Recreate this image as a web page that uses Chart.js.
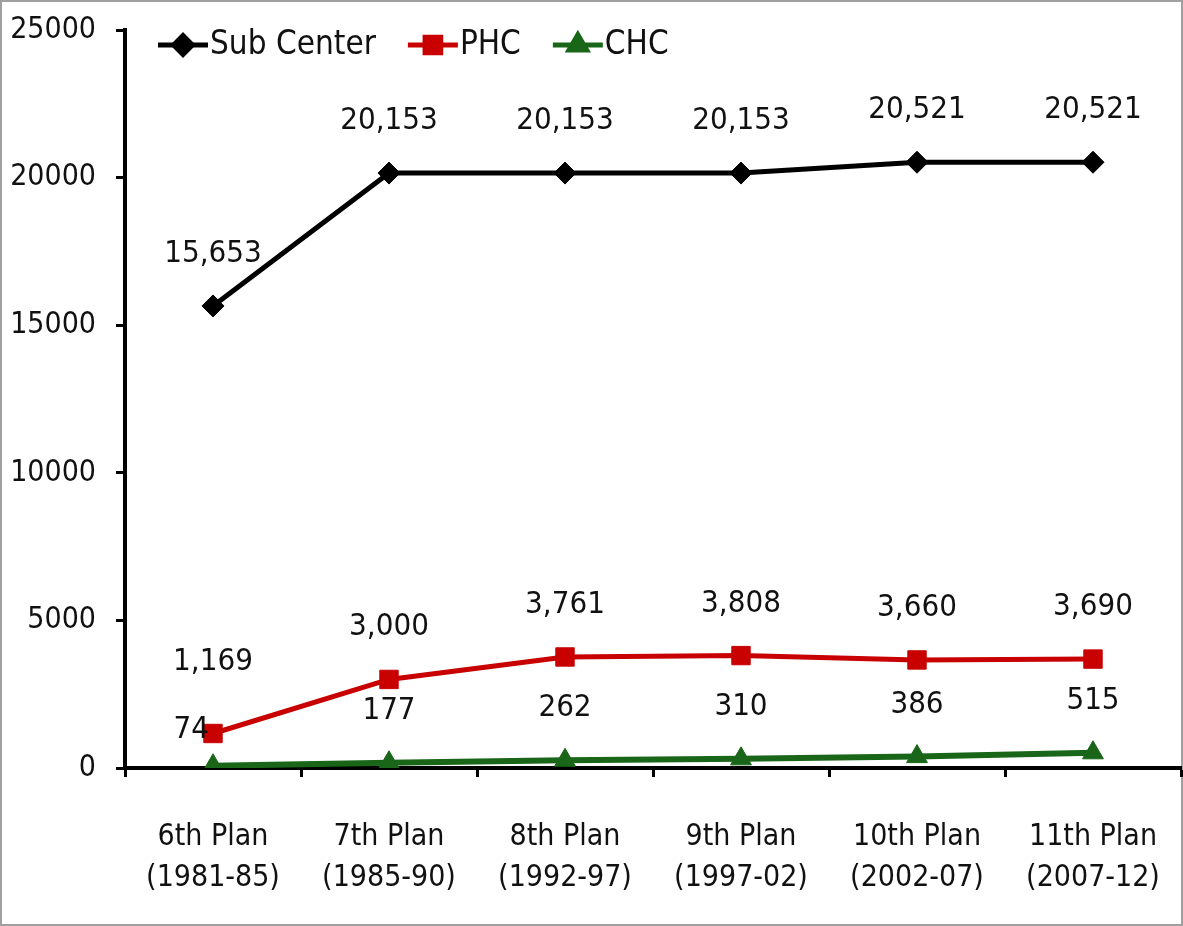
<!DOCTYPE html>
<html lang="en">
<head>
    <meta charset="UTF-8">
    <title>Sub Center / PHC / CHC by Plan</title>
    <script src="https://cdn.jsdelivr.net/npm/chart.js"></script>
    <style>
        body { margin: 0; background: #fff; }
    </style>
</head>
<body>
    <canvas id="planChart" width="1183" height="926"></canvas>
    <script>
        // data
        var planLabels = [
            ['6th Plan', '(1981-85)'],
            ['7th Plan', '(1985-90)'],
            ['8th Plan', '(1992-97)'],
            ['9th Plan', '(1997-02)'],
            ['10th Plan', '(2002-07)'],
            ['11th Plan', '(2007-12)']
        ];
        var subCenter = [15653, 20153, 20153, 20153, 20521, 20521];
        var phc = [1169, 3000, 3761, 3808, 3660, 3690];
        var chc = [74, 177, 262, 310, 386, 515];
        var yTicks = [0, 5000, 10000, 15000, 20000, 25000];

        var FONT = '"DejaVu Sans Condensed", "DejaVu Sans", sans-serif';
        var TEXT = '#111111';

        // white page + thin grey frame
        var frame = {
            id: 'frame',
            beforeDraw: function(chart) {
                var c = chart.ctx;
                c.save();
                c.fillStyle = '#fff';
                c.fillRect(0, 0, chart.width, chart.height);
                c.strokeStyle = '#a0a0a0';
                c.lineWidth = 2;
                c.strokeRect(1, 1, chart.width - 2, chart.height - 2);
                c.restore();
            }
        };

        // value labels above the points
        var valueLabels = {
            id: 'valueLabels',
            afterDatasetsDraw: function(chart) {
                var c = chart.ctx;
                c.save();
                c.font = '31px ' + FONT;
                c.fillStyle = TEXT;
                c.textBaseline = 'middle';
                chart.data.datasets.forEach(function(ds, i) {
                    var meta = chart.getDatasetMeta(i);
                    meta.data.forEach(function(pt, j) {
                        var txt = ds.data[j].toLocaleString('en-US');
                        var x = pt.x, y = pt.y - 52;
                        c.textAlign = 'center';
                        // first points crowd each other, shift them like the original
                        if (i === 1 && j === 0) { y = pt.y - 72; }
                        if (i === 2 && j === 0) { c.textAlign = 'right'; x = pt.x - 4; y = pt.y - 36; }
                        c.fillText(txt, x, y);
                    });
                });
                c.restore();
            }
        };

        // legend drawn inside the plot, top left
        var insideLegend = {
            id: 'insideLegend',
            afterDraw: function(chart) {
                var c = chart.ctx;
                var x = 158, y = 45;
                c.save();
                c.font = '33px ' + FONT;
                c.textBaseline = 'middle';
                c.textAlign = 'left';
                chart.data.datasets.forEach(function(ds) {
                    c.strokeStyle = ds.borderColor;
                    c.lineWidth = 5;
                    c.beginPath();
                    c.moveTo(x, y);
                    c.lineTo(x + 50, y);
                    c.stroke();
                    Chart.helpers.drawPoint(c, {
                        pointStyle: ds.pointStyle,
                        radius: ds.pointRadius * 0.85,
                        borderWidth: 1
                    }, x + 25, y);
                    c.fillStyle = ds.borderColor;
                    c.fill();
                    c.fillStyle = TEXT;
                    c.fillText(ds.label, x + 52, y);
                    x += 52 + c.measureText(ds.label).width + 32;
                });
                c.restore();
            }
        };

        var ctx = document.getElementById('planChart').getContext('2d');
        var chart = new Chart(ctx, {
            type: 'line',
            data: {
                labels: planLabels,
                datasets: [{
                    label: 'Sub Center',
                    data: subCenter,
                    borderColor: '#000000',
                    backgroundColor: '#000000',
                    borderWidth: 5,
                    pointStyle: 'rectRot',
                    pointRadius: 11,
                    pointBorderWidth: 1
                }, {
                    label: 'PHC',
                    data: phc,
                    borderColor: '#c80000',
                    backgroundColor: '#c80000',
                    borderWidth: 5,
                    pointStyle: 'rect',
                    pointRadius: 13,
                    pointBorderWidth: 1
                }, {
                    label: 'CHC',
                    data: chc,
                    borderColor: '#196619',
                    backgroundColor: '#196619',
                    borderWidth: 6,
                    pointStyle: 'triangle',
                    pointRadius: 12,
                    pointBorderWidth: 1
                }]
            },
            options: {
                responsive: false,
                animation: false,
                layout: { autoPadding: false, padding: { top: 30, right: 2, left: 0, bottom: 0 } },
                plugins: {
                    legend: { display: false },
                    tooltip: { enabled: false }
                },
                scales: {
                    x: {
                        offset: true,
                        grid: {
                            offset: true,
                            drawOnChartArea: false,
                            drawTicks: true,
                            tickLength: 9,
                            tickWidth: 3,
                            tickColor: '#000'
                        },
                        border: { display: true, color: '#000', width: 4 },
                        ticks: {
                            color: TEXT,
                            font: { family: FONT, size: 30, lineHeight: 1.35 },
                            padding: 40,
                            maxRotation: 0
                        },
                        afterFit: function(scale) {
                            scale.height = 926 - 768;
                            scale.paddingLeft = 0;
                            scale.paddingRight = 0;
                        }
                    },
                    y: {
                        min: 0,
                        max: 25000,
                        afterBuildTicks: function(scale) {
                            scale.ticks = yTicks.map(function(v) { return { value: v }; });
                        },
                        grid: {
                            drawOnChartArea: false,
                            drawTicks: true,
                            tickLength: 9,
                            tickWidth: 3,
                            tickColor: '#000'
                        },
                        border: { display: true, color: '#000', width: 4 },
                        ticks: {
                            color: TEXT,
                            font: { family: FONT, size: 30 },
                            padding: 20,
                            callback: function(v) { return String(v); }
                        },
                        afterFit: function(scale) {
                            scale.width = 125;
                            scale.paddingTop = 0;
                            scale.paddingBottom = 0;
                        }
                    }
                }
            },
            plugins: [frame, valueLabels, insideLegend]
        });
    </script>
</body>
</html>
